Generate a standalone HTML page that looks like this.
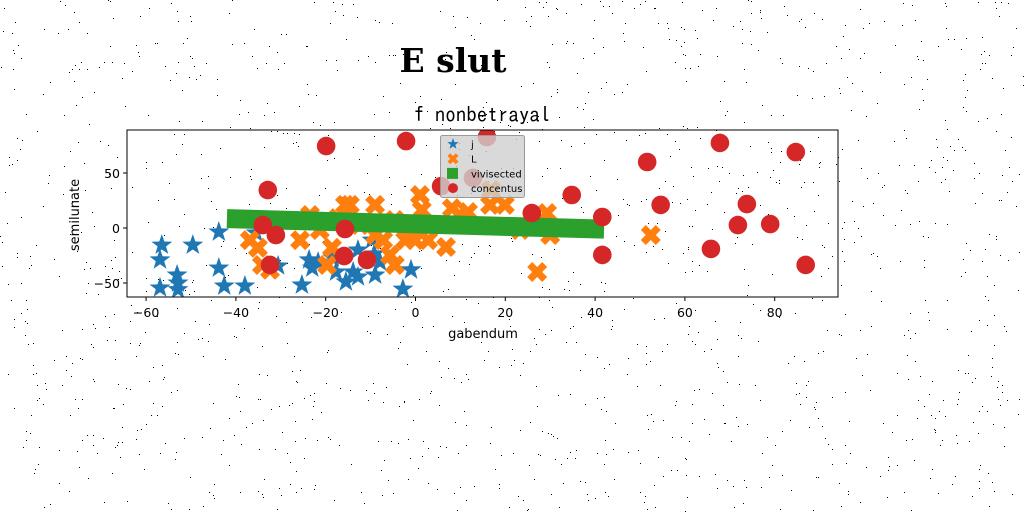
<!DOCTYPE html>
<html><head><meta charset="utf-8"><style>
body{margin:0;background:#fff;width:1024px;height:512px;overflow:hidden}
svg{display:block}
</style></head><body>
<svg id="chart" width="1024" height="512" xmlns="http://www.w3.org/2000/svg">
<g id="noise"></g>
<text x="453" y="72" text-anchor="middle" font-family="'DejaVu Serif','Liberation Serif',serif" font-weight="bold" font-size="33">E slut</text>
<text x="482" y="122" text-anchor="middle" font-family="'IPAGothic','DejaVu Sans Mono',monospace" font-size="21">f nonbetrayal</text>
<defs><clipPath id="clip"><rect x="127" y="130" width="711" height="167"/></clipPath></defs>
<g id="marks" clip-path="url(#clip)"></g>
<rect x="127" y="130" width="711" height="167" fill="none" stroke="#000" stroke-width="1"/>
<g id="axes" font-family="'DejaVu Sans','Liberation Sans',sans-serif" font-size="12.5"></g>
<text x="483" y="338" text-anchor="middle" font-family="'DejaVu Sans','Liberation Sans',sans-serif" font-size="13">gabendum</text>
<text transform="translate(79,215) rotate(-90)" text-anchor="middle" font-family="'DejaVu Sans','Liberation Sans',sans-serif" font-size="13">semilunate</text>
<g id="legend"></g>
</svg>
<script>
const xTicks=[-60,-40,-20,0,20,40,60,80];
const yTicks=[-50,0,50];
const jX=[-56.9,-56.9,-56.5,-53.1,-52.9,-52.9,-49.6,-43.8,-43.8,-42.6,-38,-35.5,-30.6,-25.3,-23.7,-23,-21.7,-18.4,-17.7,-15.5,-13.9,-12.8,-9,-12.8,-9.2,-2.8,-1,-9.7,-7.9];
const jY=[-54.5,-29,-15.5,-42.7,-50,-56,-15.5,-3.6,-36.4,-52.7,-52.7,-4.5,-34.5,-51.8,-29,-36.4,-31,-27.3,-40,-49,-40,-44.5,-42.7,-20,-23.6,-55.5,-38,-11,-31];
const lX=[-36.9,-35.1,-34.2,-32.4,-19.7,-18.6,-17.3,-15.7,-14.6,-12.4,-9,-9,-7.2,-5.7,-4.6,-2.3,-0.1,1,1.4,2.8,3.7,6.8,8.1,9.9,11.7,16.6,16.8,19.9,23.3,27.1,29.3,30,52.4,-23.5,-21.3,-25.7,-4.6,-1.2];
const lY=[-11,-18,-33.6,-38,-33.6,-18,9,21,21,2.7,21,-6.4,-11,-24.5,-33.6,-11,-11,30,16.4,-11,2.7,-17.3,18,11.8,14.5,21,34.5,21,-1.8,-40,13.6,-6.4,-6.4,11.8,-1.8,-11,7.3,-1.8];
const vX=[-42,42];
const vY=[8.5,-1];
const cX=[-19.9,-2.1,15.9,-32.9,-34,-31.1,-32.4,-15.7,-15.9,-10.8,5.7,12.8,25.9,34.8,41.6,41.6,51.6,54.6,65.8,67.8,71.8,73.8,79,84.7,86.9];
const cY=[74.5,79,82.7,34.5,2.7,-6.4,-33.6,-0.9,-25.5,-29,38,45.5,13.6,30,10,-24.5,60,21,-19,77.3,2.7,21.8,3.6,69,-33.6];
const NS="http://www.w3.org/2000/svg";
const sx=v=>415.5+v*4.49, sy=v=>228-v*1.1;
function mk(t,a,p){const e=document.createElementNS(NS,t);for(const k in a)e.setAttribute(k,a[k]);p.appendChild(e);return e;}
let seed=12345;const rnd=()=>{seed=(seed*1103515245+12345)%2147483648;return seed/2147483648;};
const nz=document.getElementById('noise');let d='';
for(let i=0;i<1500;i++){d+=`M${Math.floor(rnd()*1024)},${Math.floor(rnd()*512)}h1v1h-1z`;}
mk('path',{d:d,fill:'#000'},nz);
const ax=document.getElementById('axes');
xTicks.forEach(t=>{const x=sx(t);mk('line',{x1:x,x2:x,y1:297,y2:301,stroke:'#000'},ax);
const tx=mk('text',{x:x,y:317,'text-anchor':'middle'},ax);tx.textContent=t<0?'\u2212'+(-t):t;

});
yTicks.forEach(t=>{const y=sy(t);mk('line',{x1:123,x2:127,y1:y,y2:y,stroke:'#000'},ax);
const tx=mk('text',{x:120,y:y+5,'text-anchor':'end'},ax);tx.textContent=t<0?'\u2212'+(-t):t;

});
const m=document.getElementById('marks');
function star(cx,cy,r,fill,p){let pts=[];for(let i=0;i<10;i++){const rr=i%2?r*0.4:r;const a=-Math.PI/2+i*Math.PI/5;pts.push((cx+rr*Math.cos(a)).toFixed(1)+','+(cy+rr*Math.sin(a)).toFixed(1));}
return mk('polygon',{points:pts.join(' '),fill:fill},p);}
function cross(cx,cy,r,fill,p){const w=r*0.5;
const d=`M${cx-r},${cy-r+w}L${cx-r+w},${cy-r}L${cx},${cy-w}L${cx+r-w},${cy-r}L${cx+r},${cy-r+w}L${cx+w},${cy}L${cx+r},${cy+r-w}L${cx+r-w},${cy+r}L${cx},${cy+w}L${cx-r+w},${cy+r}L${cx-r},${cy+r-w}L${cx-w},${cy}Z`;
return mk('path',{d:d,fill:fill},p);}
jX.forEach((v,i)=>{const e=star(sx(v),sy(jY[i]),11,'#1f77b4',m);

});
lX.forEach((v,i)=>{const e=cross(sx(v),sy(lY[i]),10,'#ff7f0e',m);

});
const vl=mk('line',{x1:sx(vX[0]),y1:sy(vY[0]),x2:sx(vX[1]),y2:sy(vY[1]),stroke:'#2ca02c','stroke-width':19},m);


cX.forEach((v,i)=>{const e=mk('circle',{cx:sx(v),cy:sy(cY[i]),r:9.3,fill:'#d62728'},m);

});
const lg=document.getElementById('legend');
mk('rect',{x:440.5,y:135.5,width:84,height:62,rx:2,fill:'#d0d0d0','fill-opacity':0.8,stroke:'#999'},lg);
const names=['j','L','vivisected','concentus'];
names.forEach((n,i)=>{const y=144+i*14.7;let e;
if(i==0)e=star(453,y,6,'#1f77b4',lg);else if(i==1)e=cross(453,y,5.5,'#ff7f0e',lg);
else if(i==2)e=mk('rect',{x:447,y:y-5.5,width:11,height:11,fill:'#2ca02c'},lg);else e=mk('circle',{cx:453,cy:y,r:5,fill:'#d62728'},lg);
const t=mk('text',{x:471,y:y+4,'font-family':"'DejaVu Sans','Liberation Sans',sans-serif",'font-size':10},lg);t.textContent=n;

});
</script>
</body></html>
